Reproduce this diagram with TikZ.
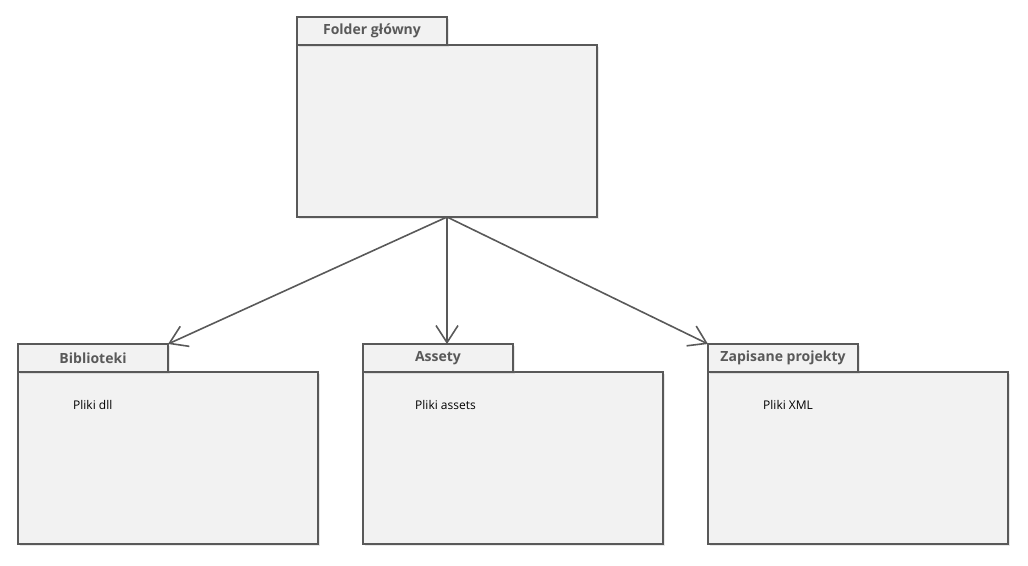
\documentclass[tikz,border=0pt]{standalone}
\usepackage{fontspec}
\setmainfont{Open Sans}
\usetikzlibrary{arrows.meta, shadows}
\definecolor{pkgline}{HTML}{595959}
\definecolor{pkgfill}{HTML}{F2F2F2}

\begin{document}
\begin{tikzpicture}[x=1pt,y=-1pt,
    pkgbody/.style={draw=pkgline, fill=pkgfill, line width=2pt, minimum width=300pt, minimum height=172pt, inner sep=0pt, outer sep=0pt, anchor=north west, drop shadow={opacity=0.18, shadow xshift=2pt, shadow yshift=-2pt}},
    pkgtab/.style={draw=pkgline, fill=pkgfill, line width=2pt, minimum width=150pt, minimum height=28pt, inner sep=0pt, outer sep=0pt, anchor=south west, text=pkgline, font=\fontsize{14}{16}\selectfont\bfseries, drop shadow={opacity=0.18, shadow xshift=2pt, shadow yshift=-2pt}},
    pkgtext/.style={anchor=west, inner sep=0pt, font=\fontsize{12}{14}\selectfont},
    dep/.style={draw=pkgline, line width=1.6pt, -{Straight Barb[length=17pt, width=22pt, line width=1.6pt]}}]

    \useasboundingbox (0,0) rectangle (1028,565);

    % packages
    \node[pkgbody] (main) at (297,45) {};
    \node[pkgtab] (maintab) at (main.north west) {Folder główny};

    \node[pkgbody] (bib) at (18,372) {};
    \node[pkgtab] (bibtab) at (bib.north west) {Biblioteki};
    \node[pkgtext] (bibtxt) at ([shift={(55pt,-33pt)}]bib.north west) {Pliki dll};

    \node[pkgbody] (assets) at (363,372) {};
    \node[pkgtab] (assetstab) at (assets.north west) {Assety};
    \node[pkgtext] (assetstxt) at ([shift={(52pt,-33pt)}]assets.north west) {Pliki assets};

    \node[pkgbody] (saved) at (708,372) {};
    \node[pkgtab] (savedtab) at (saved.north west) {Zapisane projekty};
    \node[pkgtext] (savedtxt) at ([shift={(55pt,-33pt)}]saved.north west) {Pliki XML};

    % dependencies
    \draw[dep] (main.south) -- (bibtab.north east);
    \draw[dep] (main.south) -- (main.south |- assetstab.north);
    \draw[dep] (main.south) -- (savedtab.north west);
\end{tikzpicture}
\end{document}
